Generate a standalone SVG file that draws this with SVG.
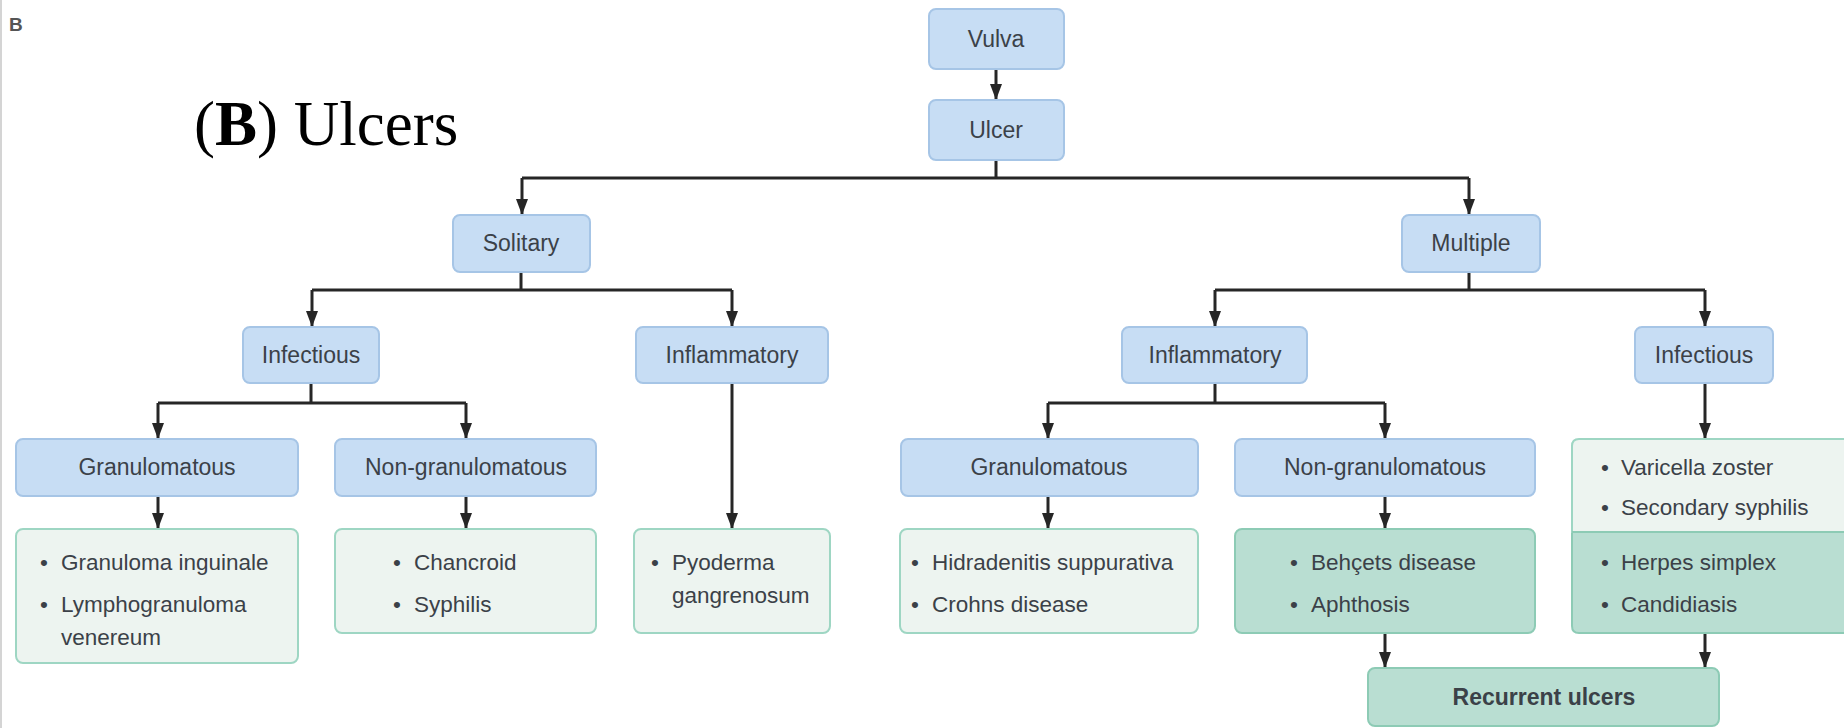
<svg xmlns="http://www.w3.org/2000/svg" width="1844" height="728" viewBox="0 0 1844 728">
<style>
.blue{fill:#c7ddf4;stroke:#a6c5e6;stroke-width:2}
.lite{fill:#edf4f0;stroke:#9ed6c3;stroke-width:2}
.dark{fill:#b9ded2;stroke:#8dcbb5;stroke-width:2}
.lbl{font-family:"Liberation Sans",Arial,sans-serif;font-size:23px;fill:#3b4148;text-anchor:middle}
.itm{font-family:"Liberation Sans",Arial,sans-serif;font-size:22.5px;fill:#3b4148}
.ln{fill:none;stroke:#262626;stroke-width:3}
.ar{fill:none;stroke:#262626;stroke-width:3;marker-end:url(#ah)}
</style>
<defs>
<marker id="ah" viewBox="0 0 16 12" refX="16" refY="6" markerWidth="16" markerHeight="12" markerUnits="userSpaceOnUse" orient="auto">
<path d="M0,0 L16,6 L0,12 Z" fill="#262626"/>
</marker>
</defs>
<rect width="1844" height="728" fill="#ffffff"/>
<line x1="1" y1="0" x2="1" y2="728" stroke="#d4d4d4" stroke-width="2"/>
<text x="9" y="31" font-family="'Liberation Sans',Arial,sans-serif" font-size="19" font-weight="bold" fill="#555">B</text>
<text x="194" y="145" font-family="'Liberation Serif','Times New Roman',serif" font-size="63" fill="#000">(<tspan font-weight="bold">B</tspan>) Ulcers</text>

<g id="connectors">
<path class="ar" d="M996,69 V100"/>
<path class="ln" d="M996,160 V178 M522,178 H1469"/>
<path class="ar" d="M522,178 V215"/>
<path class="ar" d="M1469,178 V215"/>
<path class="ln" d="M521,272 V290 M312,290 H732"/>
<path class="ar" d="M312,290 V327"/>
<path class="ar" d="M732,290 V327"/>
<path class="ln" d="M1469,272 V290 M1215,290 H1705"/>
<path class="ar" d="M1215,290 V327"/>
<path class="ar" d="M1705,290 V327"/>
<path class="ln" d="M311,383 V403 M158,403 H466"/>
<path class="ar" d="M158,403 V439"/>
<path class="ar" d="M466,403 V439"/>
<path class="ln" d="M1215,383 V403 M1048,403 H1385"/>
<path class="ar" d="M1048,403 V439"/>
<path class="ar" d="M1385,403 V439"/>
<path class="ar" d="M732,383 V529"/>
<path class="ar" d="M1705,383 V439"/>
<path class="ar" d="M158,496 V529"/>
<path class="ar" d="M466,496 V529"/>
<path class="ar" d="M1048,496 V529"/>
<path class="ar" d="M1385,496 V529"/>
<path class="ar" d="M1385,633 V668"/>
<path class="ar" d="M1705,633 V668"/>
</g>

<g id="vulva"><rect class="blue" x="929" y="9" width="135" height="60" rx="7"/><text class="lbl" x="996" y="47">Vulva</text></g>
<g id="ulcer"><rect class="blue" x="929" y="100" width="135" height="60" rx="7"/><text class="lbl" x="996" y="138">Ulcer</text></g>
<g id="solitary"><rect class="blue" x="453" y="215" width="137" height="57" rx="7"/><text class="lbl" x="521" y="251">Solitary</text></g>
<g id="multiple"><rect class="blue" x="1402" y="215" width="138" height="57" rx="7"/><text class="lbl" x="1471" y="251">Multiple</text></g>
<g id="infectious-l"><rect class="blue" x="243" y="327" width="136" height="56" rx="7"/><text class="lbl" x="311" y="363">Infectious</text></g>
<g id="inflammatory-l"><rect class="blue" x="636" y="327" width="192" height="56" rx="7"/><text class="lbl" x="732" y="363">Inflammatory</text></g>
<g id="inflammatory-r"><rect class="blue" x="1122" y="327" width="185" height="56" rx="7"/><text class="lbl" x="1215" y="363">Inflammatory</text></g>
<g id="infectious-r"><rect class="blue" x="1635" y="327" width="138" height="56" rx="7"/><text class="lbl" x="1704" y="363">Infectious</text></g>
<g id="gran-l"><rect class="blue" x="16" y="439" width="282" height="57" rx="7"/><text class="lbl" x="157" y="475">Granulomatous</text></g>
<g id="nongran-l"><rect class="blue" x="335" y="439" width="261" height="57" rx="7"/><text class="lbl" x="466" y="475">Non-granulomatous</text></g>
<g id="gran-r"><rect class="blue" x="901" y="439" width="297" height="57" rx="7"/><text class="lbl" x="1049" y="475">Granulomatous</text></g>
<g id="nongran-r"><rect class="blue" x="1235" y="439" width="300" height="57" rx="7"/><text class="lbl" x="1385" y="475">Non-granulomatous</text></g>

<g id="list-gran-l"><rect class="lite" x="16" y="529" width="282" height="134" rx="7"/>
<text class="itm" x="40" y="570">•</text><text class="itm" x="61" y="570">Granuloma inguinale</text>
<text class="itm" x="40" y="612">•</text><text class="itm" x="61" y="612">Lymphogranuloma</text>
<text class="itm" x="61" y="645">venereum</text></g>
<g id="list-nongran-l"><rect class="lite" x="335" y="529" width="261" height="104" rx="7"/>
<text class="itm" x="393" y="570">•</text><text class="itm" x="414" y="570">Chancroid</text>
<text class="itm" x="393" y="612">•</text><text class="itm" x="414" y="612">Syphilis</text></g>
<g id="list-pyoderma"><rect class="lite" x="634" y="529" width="196" height="104" rx="7"/>
<text class="itm" x="651" y="570">•</text><text class="itm" x="672" y="570">Pyoderma</text>
<text class="itm" x="672" y="603">gangrenosum</text></g>
<g id="list-gran-r"><rect class="lite" x="900" y="529" width="298" height="104" rx="7"/>
<text class="itm" x="911" y="570">•</text><text class="itm" x="932" y="570">Hidradenitis suppurativa</text>
<text class="itm" x="911" y="612">•</text><text class="itm" x="932" y="612">Crohns disease</text></g>
<g id="list-nongran-r"><rect class="dark" x="1235" y="529" width="300" height="104" rx="7"/>
<text class="itm" x="1290" y="570">•</text><text class="itm" x="1311" y="570">Behçets disease</text>
<text class="itm" x="1290" y="612">•</text><text class="itm" x="1311" y="612">Aphthosis</text></g>
<g id="list-infectious-r">
<path class="dark" d="M1572,532 H1852 V633 H1579 Q1572,633 1572,626 Z"/>
<path class="lite" d="M1572,532 V446 Q1572,439 1579,439 H1852 V532 Z"/>
<line x1="1572" y1="532" x2="1844" y2="532" stroke="#8dcbb5" stroke-width="2"/>
<text class="itm" x="1601" y="475">•</text><text class="itm" x="1621" y="475">Varicella zoster</text>
<text class="itm" x="1601" y="515">•</text><text class="itm" x="1621" y="515">Secondary syphilis</text>
<text class="itm" x="1601" y="570">•</text><text class="itm" x="1621" y="570">Herpes simplex</text>
<text class="itm" x="1601" y="612">•</text><text class="itm" x="1621" y="612">Candidiasis</text></g>
<g id="recurrent"><rect class="dark" x="1368" y="668" width="351" height="58" rx="7"/><text class="lbl" x="1544" y="705" font-weight="bold" fill="#2f3338">Recurrent ulcers</text></g>
</svg>
